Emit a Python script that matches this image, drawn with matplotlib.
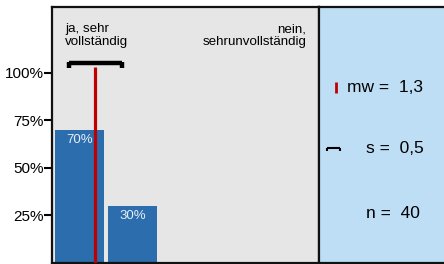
import matplotlib.pyplot as plt

plt.rcParams['font.family'] = ['Liberation Sans', 'DejaVu Sans']

# data
categories = [1, 2, 3, 4, 5]
percent = [70, 30, 0, 0, 0]
bar_labels = ['70%', '30%', '', '', '']
mean_value = 1.3
std_value = 0.5
n_value = 40
yticks = [25, 50, 75, 100]
ytick_labels = ['25%', '50%', '75%', '100%']
left_label = 'ja, sehr\nvollständig'
right_label = 'nein,\nsehrunvollständig'

bar_color = '#2B6DAD'
mean_color = '#C00000'
W, H = 444, 264

fig = plt.figure(figsize=(W / 100, H / 100), dpi=100)

# main plot area (pixels: x 52..319, y 7..262.5)
ax = fig.add_axes([52 / W, 1.5 / H, 267 / W, 255.5 / H])
ax.set_facecolor('#E6E6E6')
ax.set_xlim(0.48, 5.52)
ax.set_ylim(0, 134.5)

bars = ax.bar(categories, percent, width=0.92, color=bar_color, zorder=2)
for b, lab in zip(bars, bar_labels):
    if lab:
        ax.text(b.get_x() + b.get_width() / 2, b.get_height() - 5.5, lab,
                ha='center', va='center', color='#E8EEF6', fontsize=9.5, zorder=4)

# mean line and std bar
ax.vlines(mean_value, 0, 103, color=mean_color, lw=2.3, zorder=3)
y_err = 105
ax.hlines(y_err, mean_value - std_value, mean_value + std_value, color='black', lw=3.2, zorder=5)
for xe in (mean_value - std_value, mean_value + std_value):
    ax.vlines(xe, y_err - 2.8, y_err + 0.8, color='black', lw=3.2, zorder=5)

ax.text(0.73, 119.5, left_label, ha='left', va='center', fontsize=9.6, linespacing=1.1)
ax.text(5.28, 119.5, right_label, ha='right', va='center', fontsize=9.6, linespacing=1.1)

ax.set_yticks(yticks)
ax.set_yticklabels(ytick_labels, fontsize=11)
ax.set_xticks([])
ax.tick_params(axis='y', length=6, width=1.5, pad=0)
for side in ('left', 'top', 'bottom', 'right'):
    ax.spines[side].set_linewidth(1.6)
    ax.spines[side].set_color('#111111')

# statistics panel (pixel coordinates)
px = fig.add_axes([319 / W, 1.5 / H, 126 / W, 255.5 / H])
px.set_facecolor('#BEDEF5')
px.set_xlim(319, 445)
px.set_ylim(262.5, 7)
px.set_xticks([])
px.set_yticks([])
for side in ('left', 'top', 'bottom'):
    px.spines[side].set_linewidth(1.6)
    px.spines[side].set_color('#111111')
px.spines['right'].set_visible(False)

px.vlines(335.5, 82, 93, color=mean_color, lw=2)
px.text(347, 87, 'mw =  ' + f'{mean_value:.1f}'.replace('.', ','),
        ha='left', va='center', fontsize=12.5)

px.hlines(147.5, 327, 340, color='black', lw=1.5)
px.vlines([327, 340], 147.5, 151, color='black', lw=1.5)
px.text(366, 148, 's =  ' + f'{std_value:.1f}'.replace('.', ','),
        ha='left', va='center', fontsize=12.5)

px.text(366, 213, f'n =  {n_value}', ha='left', va='center', fontsize=12.5)

fig.savefig('out.png', dpi=100)
